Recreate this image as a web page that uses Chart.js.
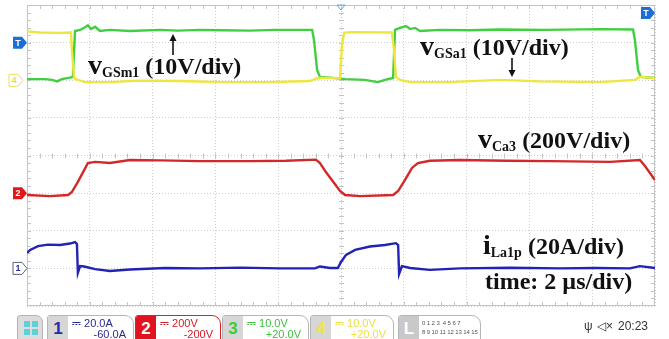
<!DOCTYPE html>
<html>
<head>
<meta charset="utf-8">
<script src="https://cdn.jsdelivr.net/npm/chart.js@4.4.1/dist/chart.umd.min.js"></script>
<style>
  html, body { margin: 0; padding: 0; background: #fff; }
  #wrap { position: relative; width: 669px; height: 339px; overflow: hidden; }
  #scope { position: absolute; left: 0; top: 0; }
  .lbl { position: absolute; font-family: "Liberation Serif", "Times New Roman", serif; font-weight: bold;
         font-size: 24px; line-height: 24px; color: #111; white-space: nowrap; }
  .lbl .big { font-size: 28px; }
  .lbl .sb { font-size: 14px; position: relative; top: 3px; }
  .tab { position: absolute; top: 315px; height: 26px; border: 1px solid #b5b5b5; border-radius: 3px 9px 0 0;
         background: #fff; box-sizing: border-box; overflow: hidden;
         font-family: "Liberation Sans", Arial, sans-serif; }
  .tab .num { position: absolute; left: 0; top: 0; bottom: 0; width: 20px; background: #d6d6d6;
              font-size: 17px; font-weight: bold; text-align: center; line-height: 25px; }
  .tab .l1 { position: absolute; left: 24px; top: 1px; font-size: 11px; }
  .tab .l2 { position: absolute; right: 7px; top: 12px; font-size: 11px; }
  .tiny { position: absolute; left: 23px; font-size: 6px; color: #555; white-space: nowrap; letter-spacing: -0.1px; }
  .status { position: absolute; top: 319px; font-family: "Liberation Sans", Arial, sans-serif; font-size: 12px; color: #333; }
</style>
</head>
<body>
<div id="wrap">
  <canvas id="scope" width="669" height="339"></canvas>

  <div class="lbl" style="left:88px; top:53px;"><span class="big">v</span><span class="sb">GSm1</span> (10V/div)</div>
  <div class="lbl" style="left:420px; top:34px;"><span class="big">v</span><span class="sb">GSa1</span> (10V/div)</div>
  <div class="lbl" style="left:478px; top:127px;"><span class="big">v</span><span class="sb">Ca3</span> (200V/div)</div>
  <div class="lbl" style="left:483px; top:233px;"><span class="big">i</span><span class="sb">La1p</span> (20A/div)</div>
  <div class="lbl" style="left:485px; top:269px;">time: 2 µs/div)</div>

  <div class="tab" style="left:17px; width:26px; border-radius:3px 7px 0 0; background:#dcdcdc;">
    <div style="position:absolute; left:6px; top:5px; width:6px; height:6px; background:#5fd0d8;"></div>
    <div style="position:absolute; left:14px; top:5px; width:6px; height:6px; background:#5fd0d8;"></div>
    <div style="position:absolute; left:6px; top:13px; width:6px; height:6px; background:#5fd0d8;"></div>
    <div style="position:absolute; left:14px; top:13px; width:6px; height:6px; background:#5fd0d8;"></div>
  </div>
  <div class="tab" style="left:47px; width:87px;">
    <div class="num" style="color:#2a2aa8;">1</div>
    <div class="l1" style="color:#2a2a90;">⎓ 20.0A</div>
    <div class="l2" style="color:#2a2a90;">-60.0A</div>
  </div>
  <div class="tab" style="left:135px; width:86px; border-color:#e0202a;">
    <div class="num" style="color:#fff; background:#e0141e;">2</div>
    <div class="l1" style="color:#d01c24;">⎓ 200V</div>
    <div class="l2" style="color:#d01c24;">-200V</div>
  </div>
  <div class="tab" style="left:222px; width:87px;">
    <div class="num" style="color:#3ccc3c;">3</div>
    <div class="l1" style="color:#3cbf3c;">⎓ 10.0V</div>
    <div class="l2" style="color:#3cbf3c;">+20.0V</div>
  </div>
  <div class="tab" style="left:310px; width:84px;">
    <div class="num" style="color:#f0e640;">4</div>
    <div class="l1" style="color:#eadf45;">⎓ 10.0V</div>
    <div class="l2" style="color:#eadf45;">+20.0V</div>
  </div>
  <div class="tab" style="left:398px; width:83px;">
    <div class="num" style="color:#fff; background:#c9c9c9;">L</div>
    <div class="tiny" style="top:4px;">0 1 2 3&nbsp; 4 5 6 7</div>
    <div class="tiny" style="top:13px;">8 9 10 11 12 13 14 15</div>
  </div>
  <div class="status" style="left:584px;">ψ</div>
  <div class="status" style="left:597px;">◁×</div>
  <div class="status" style="left:618px;">20:23</div>
</div>

<script>
// time axis in µs (2 µs/div, 10 div)
const timeMin = 0;
const timeMax = 40;

// channel 3 (green) vGSm1, volts
const greenT = [0, 1.14, 1.6, 1.92, 2.22, 2.74, 2.92, 3.06, 3.38, 3.62, 3.88, 4.08, 4.34, 4.64, 5.28, 6.56, 8.48, 9.6, 11.02, 12.4, 14.2, 15.8, 17.38, 18.16, 18.28, 18.48, 18.66, 19.3, 20.26, 21.52, 22.36, 22.8, 23.32, 23.44, 23.76, 24.14, 24.4, 24.72, 25.04, 26.3, 28.2, 30.12, 33.0, 36.5, 38.6, 38.72, 38.92, 39.1, 40];
const greenV = [0.3, 0.3, 0.1, -0.3, 0.3, 0.7, 0.9, 13.1, 13.4, 13.9, 14.6, 13.6, 14.2, 13.1, 13.4, 13.1, 13.4, 13.2, 13.4, 13.3, 13.2, 13.4, 13.4, 13.4, 10.7, 2.7, 0.9, 0.7, 0.3, 0.1, -0.5, 0.1, 0.6, 13.4, 13.9, 14.4, 13.6, 13.9, 13.1, 13.4, 13.3, 13.5, 13.4, 13.6, 13.5, 10.7, 2.7, 0.9, 0.6];

// channel 4 (yellow) vGSa1, volts
const yellowT = [0, 0.82, 2.1, 2.8, 2.86, 3.0, 3.24, 3.7, 5.28, 7.2, 9.74, 12.3, 15.48, 18.02, 18.54, 19.3, 19.94, 20.06, 20.2, 20.58, 23.24, 23.38, 23.5, 23.76, 24.4, 26.94, 30.12, 32.68, 36.5, 38.72, 39.04, 40];
const yellowV = [13.0, 12.7, 12.6, 12.7, 8.0, 0.6, 0.1, -0.5, -0.5, -0.1, -0.2, -0.5, -0.5, -0.2, 0.6, 0.6, 0.5, 9.4, 12.6, 12.8, 12.7, 8.0, 0.9, 0.1, -0.5, -0.5, 0.1, -0.3, -0.5, 0.1, 0.9, 0.6];

// channel 2 (red) vCa3, volts
const redT = [0, 1.46, 2.62, 2.86, 3.24, 3.64, 3.88, 4.34, 5.28, 6.56, 8.48, 11.0, 14.2, 16.5, 18.4, 18.66, 19.04, 19.5, 19.94, 20.26, 21.22, 23.32, 23.64, 24.08, 24.52, 24.9, 25.66, 27.58, 30.5, 33.32, 37.14, 39.04, 39.36, 40];
const redV = [-10, -16, -10, 6, 60, 122, 160, 166, 160, 176, 174, 170, 170, 172, 178, 160, 112, 60, 12, -10, -16, -10, 12, 70, 134, 160, 172, 176, 172, 170, 166, 176, 144, 70];

// channel 1 (blue) iLa1p, amps
const blueT = [0, 0.2, 0.7, 1.34, 2.1, 2.74, 3.06, 3.18, 3.24, 3.38, 3.64, 4.34, 5.28, 6.56, 8.8, 11.02, 13.6, 16.12, 18.34, 18.66, 19.3, 19.8, 20.0, 20.32, 20.9, 21.84, 22.8, 23.5, 23.64, 23.7, 23.88, 24.4, 25.66, 27.58, 30.8, 33.94, 36.2, 38.4, 39.04, 40];
const blueA = [8.2, 9.8, 11.8, 12.6, 12.4, 13.2, 14.0, 13.0, -2.4, 1.2, 1.0, -0.4, -1.4, -0.6, 0.2, 0, 0.4, 0, 0, 1.0, 0.2, 0.2, 3.4, 7.2, 9.8, 11.6, 12.4, 13.4, 12.4, -3.0, 1.2, 0.2, -0.8, 0, 0.3, 0, 0.2, 0, 1.2, 0.2];

function pts(xs, ys) {
    return xs.map((x, i) => ({ x: x, y: ys[i] }));
}

// frame, minor ticks and channel markers, oscilloscope style
const scopeDeco = {
    id: "scopeDeco",
    beforeDatasetsDraw(chart) {
        const { ctx, chartArea: a } = chart;
        const w = a.right - a.left, h = a.bottom - a.top;
        const cx = a.left + w / 2, cy = a.top + h / 2;
        ctx.save();
        ctx.strokeStyle = "#c4c4c4";
        ctx.lineWidth = 1;
        ctx.strokeRect(a.left + 0.5, a.top + 0.5, w - 1, h - 1);
        ctx.beginPath();
        for (let i = 1; i < 50; i++) {
            const x = Math.round(a.left + i * w / 50) + 0.5;
            ctx.moveTo(x, a.top); ctx.lineTo(x, a.top + 4);
            ctx.moveTo(x, a.bottom); ctx.lineTo(x, a.bottom - 4);
            ctx.moveTo(x, cy - 2); ctx.lineTo(x, cy + 3);
        }
        for (let j = 1; j < 40; j++) {
            const y = Math.round(a.top + j * h / 40) + 0.5;
            ctx.moveTo(a.left, y); ctx.lineTo(a.left + 4, y);
            ctx.moveTo(a.right, y); ctx.lineTo(a.right - 4, y);
            ctx.moveTo(cx - 2, y); ctx.lineTo(cx + 3, y);
        }
        ctx.stroke();
        ctx.restore();
    },
    afterDraw(chart) {
        const { ctx, chartArea: a, scales } = chart;
        const mark = (tipX, y, fill, stroke, txt, txtColor) => {
            ctx.save();
            ctx.beginPath();
            ctx.moveTo(tipX, y);
            ctx.lineTo(tipX - 5, y - 6);
            ctx.lineTo(tipX - 14, y - 6);
            ctx.lineTo(tipX - 14, y + 6);
            ctx.lineTo(tipX - 5, y + 6);
            ctx.closePath();
            ctx.fillStyle = fill;
            ctx.fill();
            if (stroke) { ctx.strokeStyle = stroke; ctx.lineWidth = 1; ctx.stroke(); }
            ctx.fillStyle = txtColor;
            ctx.font = "bold 9px 'Liberation Sans', Arial, sans-serif";
            ctx.textAlign = "center";
            ctx.textBaseline = "middle";
            ctx.fillText(txt, tipX - 9, y + 0.5);
            ctx.restore();
        };
        mark(a.left, scales.yC.getPixelForValue(10), "#1c6fd6", null, "T", "#fff");
        mark(a.left - 4, scales.yC.getPixelForValue(0), "#fff", "#ece24a", "4", "#e6dc40");
        mark(a.left, scales.yB.getPixelForValue(0), "#e01818", null, "2", "#fff");
        mark(a.left, scales.yA.getPixelForValue(0), "#fff", "#55607a", "1", "#2a2a90");
        mark(a.right, a.top + 8, "#1c6fd6", null, "T", "#fff");
        // trigger position at top centre
        const cx = (a.left + a.right) / 2;
        ctx.save();
        ctx.strokeStyle = "#6aa8d8";
        ctx.beginPath();
        ctx.moveTo(cx - 4, a.top); ctx.lineTo(cx + 4, a.top); ctx.lineTo(cx, a.top + 5); ctx.closePath();
        ctx.stroke();
        // arrows for the labels
        ctx.strokeStyle = "#111";
        ctx.fillStyle = "#111";
        ctx.lineWidth = 1.6;
        ctx.beginPath(); ctx.moveTo(173, 55); ctx.lineTo(173, 39); ctx.stroke();
        ctx.beginPath(); ctx.moveTo(173, 34); ctx.lineTo(169.5, 41); ctx.lineTo(176.5, 41); ctx.closePath(); ctx.fill();
        ctx.beginPath(); ctx.moveTo(512, 58); ctx.lineTo(512, 72); ctx.stroke();
        ctx.beginPath(); ctx.moveTo(512, 77); ctx.lineTo(508.5, 70); ctx.lineTo(515.5, 70); ctx.closePath(); ctx.fill();
        ctx.restore();
    }
};

const traceStyle = { borderWidth: 2.4, pointRadius: 0, tension: 0, fill: false };

new Chart(document.getElementById("scope").getContext("2d"), {
    type: "line",
    data: {
        datasets: [
            { ...traceStyle, label: "iLa1p", data: pts(blueT, blueA), borderColor: "#2222b4", yAxisID: "yA" },
            { ...traceStyle, label: "vCa3", data: pts(redT, redV), borderColor: "#d42828", yAxisID: "yB" },
            { ...traceStyle, label: "vGSa1", data: pts(yellowT, yellowV), borderColor: "#eee63a", yAxisID: "yC" },
            { ...traceStyle, label: "vGSm1", data: pts(greenT, greenV), borderColor: "#40cf40", yAxisID: "yC" },
        ],
    },
    options: {
        responsive: false,
        animation: false,
        devicePixelRatio: 1,
        layout: { padding: { left: 27, right: 14, top: 5, bottom: 33 } },
        plugins: { legend: { display: false }, tooltip: { enabled: false } },
        scales: {
            x: {
                type: "linear", min: timeMin, max: timeMax,
                ticks: { display: false, stepSize: 4 },
                grid: { color: "#cfcfcf", drawTicks: false },
                border: { display: false, dash: [1, 2] },
            },
            // ch1: 20 A/div, ground 1 div above bottom
            yA: { type: "linear", min: -20, max: 140, display: false },
            // ch2: 200 V/div, ground 3 div above bottom
            yB: { type: "linear", min: -600, max: 1000, display: false },
            // ch3/ch4: 10 V/div, ground 6 div above bottom
            yC: {
                type: "linear", position: "left", min: -60, max: 20,
                ticks: { display: false, stepSize: 10 },
                grid: { color: "#cfcfcf", drawTicks: false },
                border: { display: false, dash: [1, 2] },
            },
        },
    },
    plugins: [scopeDeco],
});
</script>
</body>
</html>
